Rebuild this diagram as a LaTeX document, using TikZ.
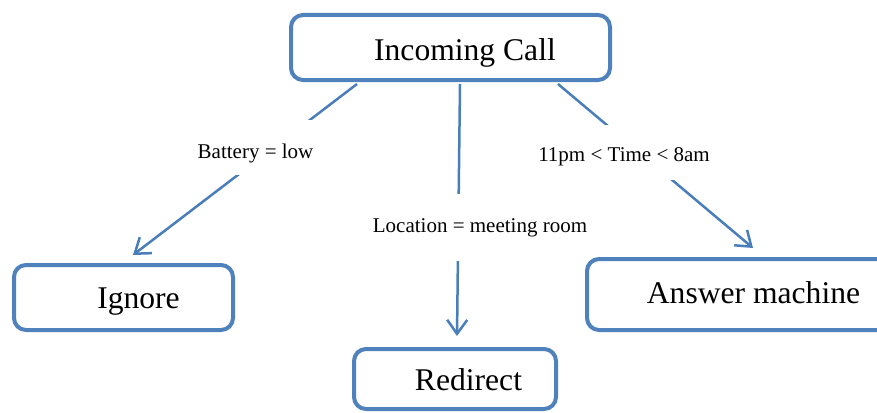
\documentclass[tikz,border=0pt]{standalone}
\usepackage{fontspec}
\setmainfont{Liberation Serif}
\usetikzlibrary{arrows.meta}
\definecolor{boxblue}{HTML}{4F81BD}
\definecolor{lineblue}{HTML}{4A7EBB}
\tikzset{
  statebox/.style={draw=boxblue, line width=4pt, rounded corners=12pt, fill=white,
    inner xsep=0pt, inner ysep=0pt, font=\fontsize{31.6}{38}\selectfont},
  conn/.style={draw=lineblue, line width=2.5pt, -{Straight Barb[length=14pt,width=20pt]}},
  condlabel/.style={fill=white, inner xsep=3pt, inner ysep=0pt, anchor=base,
    font=\fontsize{21}{25}\selectfont}
}
\begin{document}
\begin{tikzpicture}[x=1pt,y=1pt]
\clip (0,0) rectangle (877,-412);
\fill[white] (0,0) rectangle (877,-412);
% boxes (coordinates only, drawn later on top)
\node[statebox, minimum width=319pt, minimum height=65pt, text height=45pt, text depth=20pt]
  (inc) at (450.5,-47.5) {\hspace*{29pt}Incoming Call};
\node[statebox, minimum width=219pt, minimum height=65pt, text height=43pt, text depth=22pt]
  (ign) at (123.5,-297.5) {\hspace*{30pt}Ignore};
\node[statebox, minimum width=303pt, minimum height=71pt, text height=44pt, text depth=27pt]
  (ans) at (738.5,-294.5) {\hspace*{30pt}Answer machine};
\node[statebox, minimum width=202pt, minimum height=60pt, text height=41pt, text depth=19pt]
  (red) at (455,-379) {\hspace*{27pt}Redirect};
% connectors
\draw[conn] ([xshift=-93.5pt,yshift=-2pt]inc.south) -- ([xshift=9.5pt,yshift=8pt]ign.north);
\draw[conn] ([xshift=9.5pt,yshift=-2pt]inc.south) -- ([xshift=2pt,yshift=11pt]red.north);
\draw[conn] ([xshift=107.5pt,yshift=-2pt]inc.south) -- ([xshift=14.5pt,yshift=9pt]ans.north);
% condition labels
\node[condlabel, text height=38pt, text depth=17pt] (l1) at (255.5,-158.3) {Battery = low};
\node[condlabel, text height=38pt, text depth=29pt] (l2) at (480,-232) {Location = meeting room};
\node[condlabel, text height=37pt, text depth=18pt] (l3) at (624,-161.7) {11pm < Time < 8am};
\end{tikzpicture}
\end{document}
